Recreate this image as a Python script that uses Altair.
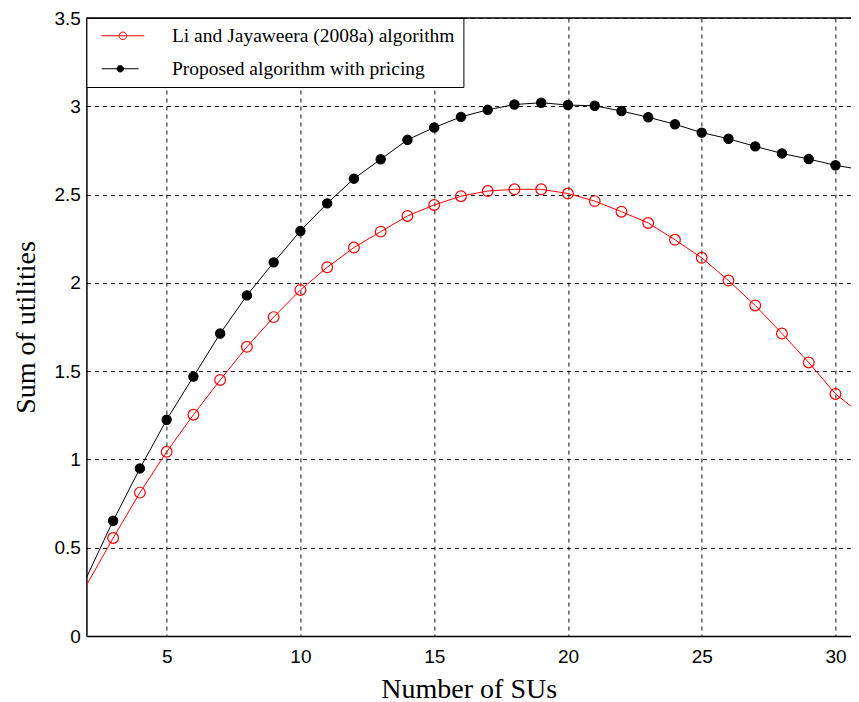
import math
import altair as alt
import pandas as pd

# ---- data ----
n_sus = list(range(2, 32))
li_jayaweera = [0.287, 0.555, 0.812, 1.043, 1.253, 1.450, 1.638, 1.806, 1.960, 2.088,
                2.200, 2.290, 2.379, 2.441, 2.491, 2.520, 2.530, 2.530, 2.506, 2.463,
                2.403, 2.339, 2.244, 2.142, 2.013, 1.872, 1.713, 1.549, 1.371, 1.250]
proposed = [0.330, 0.653, 0.949, 1.225, 1.469, 1.713, 1.929, 2.116, 2.294, 2.450,
            2.590, 2.700, 2.810, 2.880, 2.940, 2.980, 3.010, 3.020, 3.007, 3.003,
            2.973, 2.938, 2.898, 2.851, 2.816, 2.773, 2.733, 2.701, 2.666, 2.640]
series_names = ["Li and Jayaweera (2008a) algorithm", "Proposed algorithm with pricing"]
series_colors = ["#ff0000", "#000000"]
marker_fills = ["transparent", "#000000"]
marker_sizes = [115, 85]
x_ticks = [5, 10, 15, 20, 25, 30]
y_ticks = [0, 0.5, 1, 1.5, 2, 2.5, 3, 3.5]
x_domain = [2, 30.58]
y_domain = [0, 3.5]

df = pd.DataFrame({
    "n": n_sus * 2,
    "value": li_jayaweera + proposed,
    "series": [series_names[0]] * len(n_sus) + [series_names[1]] * len(n_sus),
})

# legend glyph: a line segment with a small circle (polygon) in its middle
_cx, _r, _k = 3.5, 0.7, 24
_poly = "".join(
    ("M" if i == 0 else "L")
    + f"{_cx + _r * math.cos(2 * math.pi * i / _k):.3f},{_r * math.sin(2 * math.pi * i / _k):.3f}"
    for i in range(_k)
) + "Z"
legend_path = "M-0.525,0L7.475,0" + _poly

legend = alt.Legend(
    title=None, orient="none", legendX=0, legendY=0,
    fillColor="white", strokeColor="black", padding=8,
    symbolType=legend_path, symbolSize=256, symbolStrokeWidth=1,
    labelFont="Liberation Serif", labelFontSize=19.5, labelColor="black",
    labelOffset=58, labelLimit=600, rowPadding=12,
)

x_enc = alt.X("n:Q",
              scale=alt.Scale(domain=x_domain, nice=False, zero=False),
              axis=alt.Axis(values=x_ticks, title="Number of SUs", labelPadding=11,
                            titleY=61, titleBaseline="alphabetic"))
y_enc = alt.Y("value:Q",
              scale=alt.Scale(domain=y_domain, nice=False),
              axis=alt.Axis(values=y_ticks, format="~g", title="Sum of utilities",
                            labelPadding=6, titleX=-60, titleY=309,
                            titleBaseline="middle", titleAlign="center"))
stroke_scale = alt.Scale(domain=series_names, range=series_colors)
fill_scale = alt.Scale(domain=series_names, range=marker_fills)
size_scale = alt.Scale(domain=series_names, range=marker_sizes)

base = alt.Chart(df)

lines = base.mark_line(strokeWidth=1, clip=True).encode(
    x=x_enc, y=y_enc,
    stroke=alt.Stroke("series:N", scale=stroke_scale, legend=legend),
)

points = base.transform_filter("datum.n >= 3").mark_point(
    clip=True, opacity=1, strokeWidth=1.2, shape="circle"
).encode(
    x=x_enc, y=y_enc,
    stroke=alt.Stroke("series:N", scale=stroke_scale, legend=legend),
    fill=alt.Fill("series:N", scale=fill_scale, legend=legend),
    size=alt.Size("series:N", scale=size_scale, legend=None),
)

top_border = alt.Chart(pd.DataFrame({"k": [0]})).mark_rule(
    color="black", strokeWidth=1.5
).encode(y=alt.datum(3.5))

chart = alt.layer(lines, points, top_border).properties(
    width=764.6, height=618,
    autosize=alt.AutoSizeParams(type="none"),
    padding={"left": 78.4, "top": 10, "right": 0, "bottom": 70},
).configure_view(stroke=None).configure_axis(
    domainColor="black", domainWidth=1.5, ticks=False,
    grid=True, gridColor="#111111", gridDash=[4, 4], gridWidth=1, gridOpacity=1,
    labelFont="Liberation Sans", labelFontSize=19, labelColor="black",
    titleFont="Liberation Serif", titleFontSize=28, titleFontWeight="normal",
    titleColor="black",
)

chart.save("out.html", embed_options={"renderer": "svg", "actions": False})
